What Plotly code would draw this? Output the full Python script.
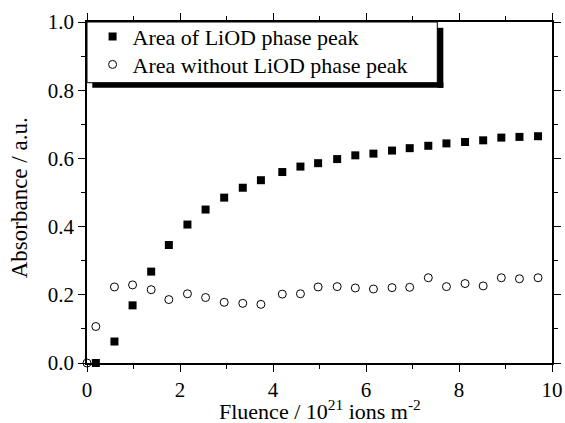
import plotly.graph_objects as go

fluence = [0.19, 0.59, 0.98, 1.38, 1.76, 2.16, 2.55, 2.95, 3.35, 3.74, 4.20, 4.59, 4.97,
           5.38, 5.77, 6.16, 6.56, 6.94, 7.34, 7.73, 8.13, 8.52, 8.91, 9.30, 9.70]
area_liod = [0.00, 0.063, 0.169, 0.268, 0.346, 0.406, 0.450, 0.485, 0.514, 0.536, 0.560,
             0.576, 0.586, 0.598, 0.609, 0.614, 0.623, 0.630, 0.637, 0.644, 0.648, 0.653,
             0.661, 0.663, 0.665]
fluence_open = [0.0] + fluence
area_without = [0.0, 0.107, 0.223, 0.229, 0.215, 0.186, 0.203, 0.192, 0.178, 0.175, 0.172,
                0.202, 0.203, 0.223, 0.224, 0.220, 0.217, 0.221, 0.222, 0.250, 0.224,
                0.233, 0.226, 0.250, 0.247, 0.250]

series_names = ["Area of LiOD phase peak", "Area without LiOD phase peak"]
x_title = "Fluence / 10<sup>21</sup> ions m<sup>-2</sup>"
y_title = "Absorbance / a.u."
x_ticks = [0, 2, 4, 6, 8, 10]
y_ticks = [0.0, 0.2, 0.4, 0.6, 0.8, 1.0]

FONT = "Liberation Serif"

fig = go.Figure()
fig.add_trace(go.Scatter(
    x=fluence, y=area_liod, mode="markers", name=series_names[0], legend="legend",
    marker=dict(symbol="square", size=8, color="black"), cliponaxis=False))
fig.add_trace(go.Scatter(
    x=fluence_open, y=area_without, mode="markers", name=series_names[1], legend="legend2",
    marker=dict(symbol="circle-open", size=8, color="black", line=dict(width=1, color="black")),
    cliponaxis=False))

axis_common = dict(showline=True, linecolor="black", linewidth=1.5, mirror="ticks",
                   ticks="outside", ticklen=7, tickwidth=1, tickcolor="black",
                   showgrid=False, zeroline=False, automargin=False,
                   tickfont=dict(family=FONT, size=21, color="black"))

fig.update_xaxes(range=[0, 10], tickvals=x_ticks, ticktext=[str(v) for v in x_ticks],
                 minor=dict(dtick=1, ticklen=4, ticks="outside", tickcolor="black", showgrid=False),
                 **axis_common)
fig.update_yaxes(range=[0, 1.0], tickvals=y_ticks, ticktext=[f"{v:.1f}" for v in y_ticks],
                 minor=dict(dtick=0.1, ticklen=4, ticks="outside", tickcolor="black", showgrid=False),
                 **axis_common)

fig.add_annotation(text=x_title, xref="paper", yref="paper", x=0.5, y=-0.138,
                   xanchor="center", yanchor="middle", showarrow=False,
                   font=dict(family=FONT, size=22, color="black"))
fig.add_annotation(text=y_title, xref="paper", yref="paper", x=-0.1434, y=0.484,
                   xanchor="center", yanchor="middle", showarrow=False, textangle=-90,
                   font=dict(family=FONT, size=23, color="black"))

# legend frame with drop shadow
shapes = [
    dict(type="rect", xref="paper", yref="paper", x0=0.0, x1=0.7533, y0=0.822, y1=1.0,
         line=dict(color="black", width=1), fillcolor="rgba(0,0,0,0)"),
    dict(type="rect", xref="paper", yref="paper", x0=0.0114, x1=0.7663, y0=0.807, y1=0.822,
         line=dict(width=0), fillcolor="black"),
    dict(type="rect", xref="paper", yref="paper", x0=0.7533, x1=0.7663, y0=0.807, y1=0.983,
         line=dict(width=0), fillcolor="black"),
]

leg_common = dict(xanchor="left", yanchor="middle", bgcolor="rgba(0,0,0,0)", borderwidth=0,
                  font=dict(family=FONT, size=22, color="black"), itemwidth=30)

fig.update_layout(
    width=565, height=423,
    margin=dict(l=87, r=13, t=22, b=60),
    paper_bgcolor="white", plot_bgcolor="white",
    font=dict(family=FONT, size=21, color="black"),
    showlegend=True,
    legend=dict(x=0.012, y=0.957, **leg_common),
    legend2=dict(x=0.012, y=0.875, **leg_common),
    shapes=shapes,
)

fig.write_html("out.html", config={"displayModeBar": False},
               post_script="document.body.style.margin='0px';document.body.style.overflow='hidden';")
